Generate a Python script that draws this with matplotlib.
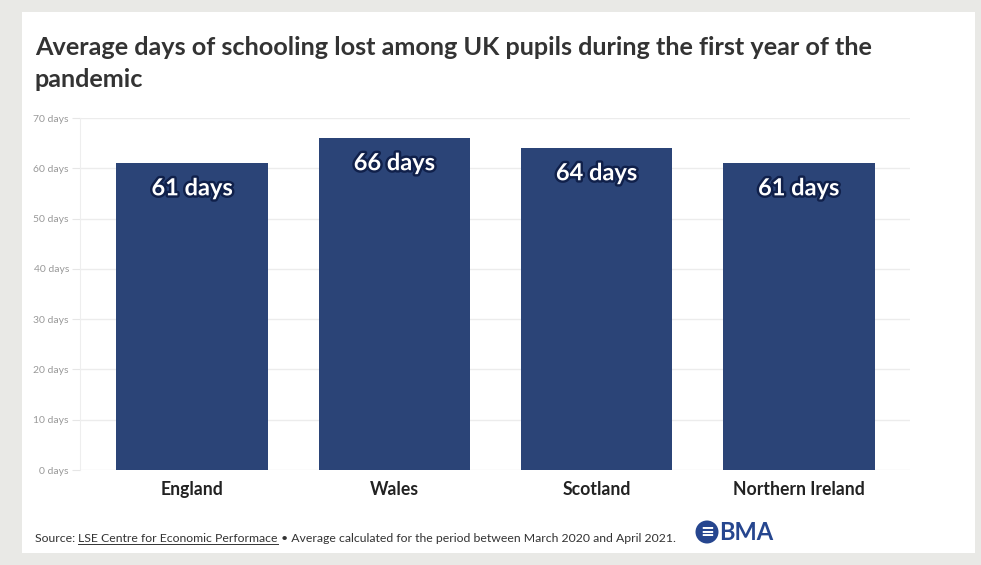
import matplotlib.pyplot as plt
import matplotlib.patheffects as pe
from matplotlib.patches import Rectangle, Ellipse
from matplotlib.lines import Line2D

# Données
nations = ['England', 'Wales', 'Scotland', 'Northern Ireland']
days_lost = [61, 66, 64, 61]
y_ticks = [0, 10, 20, 30, 40, 50, 60, 70]

bar_color = '#2b4477'
font = 'Lato'

fig = plt.figure(figsize=(9.81, 5.65), dpi=100)
fig.patch.set_facecolor('#e9e9e6')

# Panneau blanc
fig.patches.append(Rectangle((22 / 981, 12 / 565), 953 / 981, 541 / 565,
                             transform=fig.transFigure, facecolor='white',
                             edgecolor='none', zorder=-5))

ax = fig.add_axes([80 / 981, 1 - 470 / 565, 830 / 981, 352 / 565])
ax.set_facecolor('white')

x = range(len(nations))
ax.bar(x, days_lost, width=0.75, color=bar_color, zorder=3)

for i, v in enumerate(days_lost):
    t = ax.text(i, v - 2.6, f'{v} days', ha='center', va='top', color='white',
                fontsize=17, fontweight='bold', family=font, zorder=4)
    t.set_path_effects([pe.withStroke(linewidth=3.5, foreground='#10204a')])

ax.set_xlim(-0.555, 3.55)
ax.set_ylim(0, 70)
ax.set_yticks(y_ticks)
ax.set_yticklabels([f'{v} days' for v in y_ticks], color='#999999',
                   fontsize=7.5, family=font)
ax.set_xticks(list(x))
ax.set_xticklabels(nations, fontsize=12.7, fontweight='bold', family=font,
                   color='#222222')
ax.tick_params(axis='y', length=6, color='#e6e6e6', pad=2)
ax.tick_params(axis='x', length=0, pad=8)
ax.grid(axis='y', color='#ececec', linewidth=1, zorder=0)
for s in ['top', 'right', 'bottom']:
    ax.spines[s].set_visible(False)
ax.spines['left'].set_color('#eeeeee')

# Titre
fig.text(35 / 981, 1 - 36 / 565,
         'Average days of schooling lost among UK pupils during the first year of the\npandemic',
         ha='left', va='top', fontsize=18.2, fontweight='bold', family=font,
         color='#333333', linespacing=1.45)

# Source
fs = 8.8
y_src = 1 - 542 / 565
t1 = fig.text(35 / 981, y_src, 'Source: ', fontsize=fs, family=font,
              color='#333333', va='baseline')
fig.canvas.draw()
r = fig.canvas.get_renderer()
bb = t1.get_window_extent(r)
t2 = fig.text(bb.x1 / 981, y_src, 'LSE Centre for Economic Performace',
              fontsize=fs, family=font, color='#333333', va='baseline')
bb2 = t2.get_window_extent(r)
fig.lines.append(Line2D([bb2.x0 / 981, bb2.x1 / 981], [y_src - 2 / 565] * 2,
                        transform=fig.transFigure, color='#333333', linewidth=0.7))
t3 = fig.text(bb2.x1 / 981, y_src,
              ' \u2022 Average calculated for the period between March 2020 and April 2021.',
              fontsize=fs, family=font, color='#333333', va='baseline')

# Logo BMA
fig.patches.append(Ellipse((707 / 981, 1 - 532 / 565), 23 / 981, 23 / 565,
                           transform=fig.transFigure, facecolor='#26468f',
                           edgecolor='none'))
fig.text(707 / 981, 1 - 532 / 565, '\u2261', ha='center', va='center',
         color='white', fontsize=12, fontweight='bold')
fig.text(719 / 981, 1 - 532 / 565, 'BMA', ha='left', va='center',
         color='#26468f', fontsize=17, fontweight='bold', family=font)

fig.savefig('out.png', dpi=100)
